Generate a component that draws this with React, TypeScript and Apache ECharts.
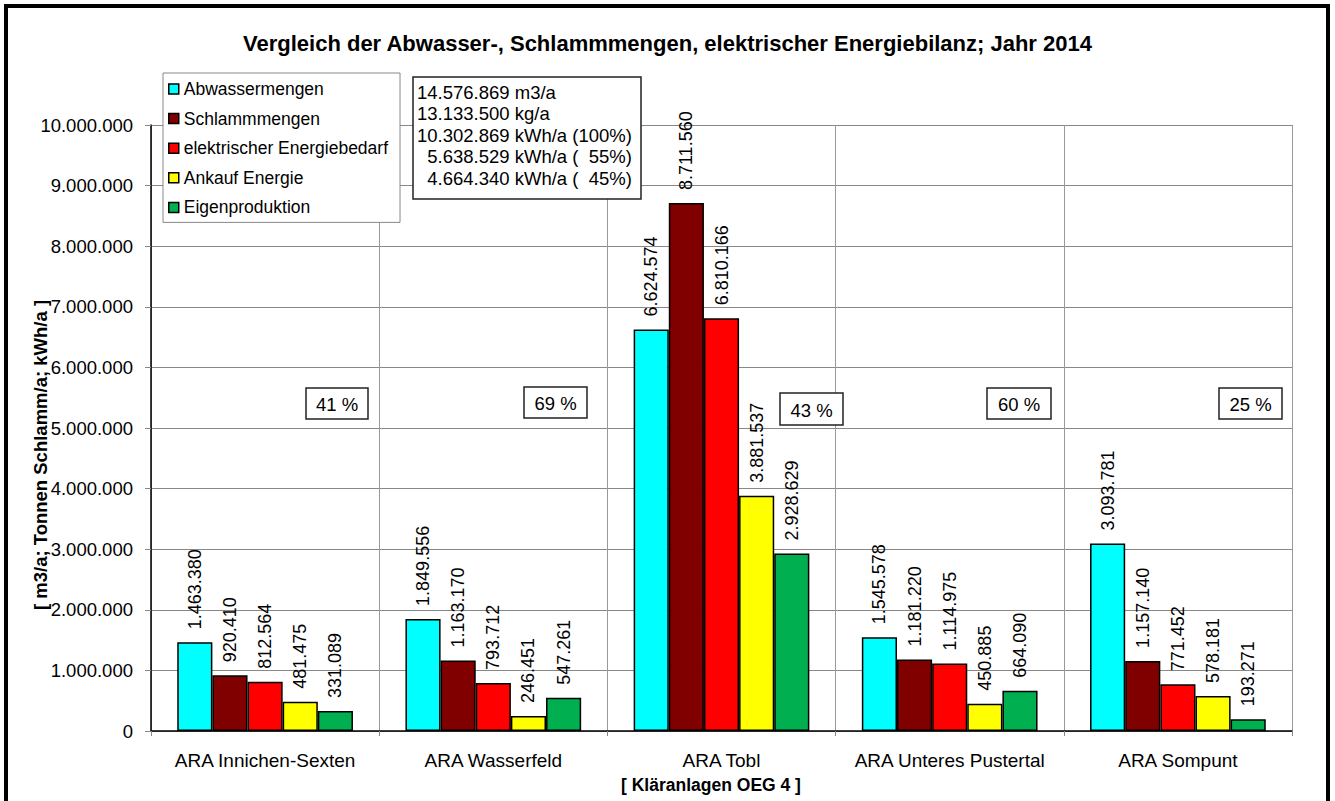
import React, { useEffect, useRef } from "react";
import * as echarts from "echarts";

const categories = [
  "ARA Innichen-Sexten",
  "ARA Wasserfeld",
  "ARA Tobl",
  "ARA Unteres Pustertal",
  "ARA Sompunt",
];
const seriesNames = [
  "Abwassermengen",
  "Schlammmengen",
  "elektrischer Energiebedarf",
  "Ankauf Energie",
  "Eigenproduktion",
];
const abwasser = [1463380, 1849556, 6624574, 1545578, 3093781];
const schlamm = [920410, 1163170, 8711560, 1181220, 1157140];
const energiebedarf = [812564, 793712, 6810166, 1114975, 771452];
const ankauf = [481475, 246451, 3881537, 450885, 578181];
const eigen = [331089, 547261, 2928629, 664090, 193271];
const colors = ["#00FFFF", "#800000", "#FF0000", "#FFFF00", "#00B050"];
const percentLabels = ["41 %", "69 %", "43 %", "60 %", "25 %"];
const infoLines = [
  "14.576.869 m3/a",
  "13.133.500 kg/a",
  "10.302.869 kWh/a (100%)",
  "\u00A0\u00A05.638.529 kWh/a (\u00A0\u00A055%)",
  "\u00A0\u00A04.664.340 kWh/a (\u00A0\u00A045%)",
];
const yTicks = { min: 0, max: 10000000, interval: 1000000 };

const FONT = "Arial, 'Liberation Sans', sans-serif";

function fmt(v: number): string {
  return String(Math.round(v)).replace(/\B(?=(\d{3})+(?!\d))/g, ".");
}

// annotation box positions (x, y, w, h)
const pctBoxes = [
  [306, 388, 62, 31],
  [524, 387, 63, 31],
  [780, 393, 63, 32],
  [987, 388, 64, 31],
  [1219, 388, 63, 31],
];

export default function App() {
  const ref = useRef<HTMLDivElement>(null);
  useEffect(() => {
    if (!ref.current) return;
    const chart = echarts.init(ref.current, undefined, { renderer: "svg" });
    const allData = [abwasser, schlamm, energiebedarf, ankauf, eigen];
    const series = allData.map((d, i) => ({
      name: seriesNames[i],
      type: "bar",
      data: d,
      barGap: "0%",
      barCategoryGap: "23%",
      itemStyle: { color: colors[i], borderColor: "#000", borderWidth: 1.5 },
      label: {
        show: true,
        position: "top",
        rotate: 90,
        align: "left",
        verticalAlign: "middle",
        distance: 13,
        fontFamily: FONT,
        fontSize: 18,
        color: "#000",
        formatter: (p: any) => fmt(p.value),
      },
    }));

    const graphics: any[] = [
      {
        type: "rect",
        shape: { x: 6, y: 6, width: 1322, height: 820 },
        style: { fill: "none", stroke: "#000", lineWidth: 4 },
        silent: true,
        z: 100,
      },
      {
        type: "text",
        x: 40,
        y: 455,
        rotation: Math.PI / 2,
        style: {
          text: "[ m3/a; Tonnen Schlamm/a; kWh/a ]",
          font: `bold 18.5px ${FONT}`,
          fill: "#000",
          align: "center",
          verticalAlign: "middle",
        },
        z: 50,
      },
      {
        type: "text",
        x: 711,
        y: 785,
        style: {
          text: "[ Kläranlagen OEG 4 ]",
          font: `bold 17.5px ${FONT}`,
          fill: "#000",
          align: "center",
          verticalAlign: "middle",
        },
      },
      {
        type: "rect",
        shape: { x: 413, y: 77, width: 228, height: 122 },
        style: { fill: "#fff", stroke: "#222", lineWidth: 1.5 },
        z: 50,
      },
    ];
    infoLines.forEach((t, i) => {
      graphics.push({
        type: "text",
        x: 417,
        y: 92 + i * 21.5,
        style: {
          text: t,
          font: `18.5px ${FONT}`,
          fill: "#000",
          align: "left",
          verticalAlign: "middle",
        },
        z: 51,
      });
    });
    pctBoxes.forEach((b, i) => {
      graphics.push({
        type: "rect",
        shape: { x: b[0], y: b[1], width: b[2], height: b[3] },
        style: { fill: "#fff", stroke: "#222", lineWidth: 1.5 },
        z: 50,
      });
      graphics.push({
        type: "text",
        x: b[0] + b[2] / 2,
        y: b[1] + b[3] / 2 + 1,
        style: {
          text: percentLabels[i],
          font: `18.5px ${FONT}`,
          fill: "#000",
          align: "center",
          verticalAlign: "middle",
        },
        z: 51,
      });
    });

    chart.setOption({
      animation: false,
      backgroundColor: "#fff",
      color: colors,
      title: {
        text: "Vergleich der Abwasser-, Schlammmengen, elektrischer Energiebilanz; Jahr 2014",
        left: "center",
        top: 27,
        textStyle: { fontFamily: FONT, fontSize: 22, fontWeight: "bold", color: "#000" },
      },
      legend: {
        orient: "vertical",
        left: 163,
        top: 73,
        width: 229,
        itemWidth: 10,
        itemHeight: 10,
        itemGap: 9.6,
        icon: "rect",
        padding: [6, 12, 5, 5],
        backgroundColor: "#fff",
        borderColor: "#888",
        borderWidth: 1,
        z: 60,
        textStyle: { fontFamily: FONT, fontSize: 17.5, color: "#000", lineHeight: 20 },
        itemStyle: { borderColor: "#000", borderWidth: 1.5 },
      },
      grid: { left: 151, right: 43, top: 125, bottom: 70, containLabel: false },
      xAxis: {
        type: "category",
        data: categories,
        axisLine: { lineStyle: { color: "#000", width: 1.5 } },
        axisTick: { show: true, length: 5, lineStyle: { color: "#888" } },
        axisLabel: { interval: 0, fontFamily: FONT, fontSize: 19, color: "#000", margin: 20 },
        splitLine: { show: true, lineStyle: { color: "#999", width: 1 } },
      },
      yAxis: {
        type: "value",
        min: yTicks.min,
        max: yTicks.max,
        interval: yTicks.interval,
        axisLine: { show: true, lineStyle: { color: "#000", width: 1.5 } },
        axisTick: { show: true, length: 6, lineStyle: { color: "#888" } },
        axisLabel: {
          fontFamily: FONT,
          fontSize: 18.5,
          color: "#000",
          margin: 18,
          formatter: (v: number) => fmt(v),
        },
        splitLine: { show: true, lineStyle: { color: "#888", width: 1 } },
      },
      graphic: graphics,
      series,
    });
    return () => chart.dispose();
  }, []);
  return (
    <div
      ref={ref}
      style={{ position: "fixed", left: 0, top: 0, width: 1335, height: 801 }}
    />
  );
}
